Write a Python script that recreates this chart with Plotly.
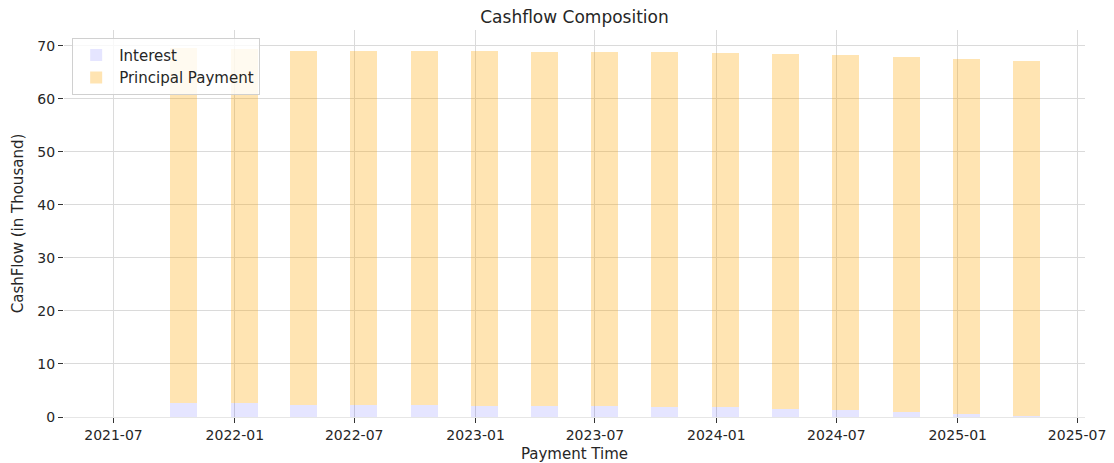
import plotly.graph_objects as go

# ---- data ----
payment_dates = ["2021-10-15", "2022-01-15", "2022-04-15", "2022-07-15", "2022-10-15",
                 "2023-01-15", "2023-04-15", "2023-07-15", "2023-10-15", "2024-01-15",
                 "2024-04-15", "2024-07-15", "2024-10-15", "2025-01-15", "2025-04-15"]
interest = [2.72, 2.72, 2.34, 2.34, 2.34, 2.15, 2.15, 2.15, 1.96, 1.96, 1.52, 1.33, 1.02, 0.57, 0.19]
principal = [66.84, 66.65, 66.71, 66.71, 66.71, 66.90, 66.65, 66.65, 66.90, 66.65, 66.90, 66.90, 66.83, 66.91, 66.91]
series_names = ["Interest", "Principal Payment"]
title_text = "Cashflow Composition"
x_label = "Payment Time"
y_label = "CashFlow (in Thousand)"

FONT = "DejaVu Sans"
BAR_WIDTH_MS = 41 * 86400000
# page body has an 8px margin; size the figure so the plot area lands where the reference has it
FIG_W, FIG_H = 1106, 455
M_L, M_R, M_T, M_B = 56, 29, 22, 46

fig = go.Figure()
fig.add_trace(go.Bar(x=payment_dates, y=interest, name=series_names[0],
                     marker=dict(color="rgba(0,0,255,0.1)", line=dict(width=0)),
                     width=[BAR_WIDTH_MS] * len(payment_dates)))
fig.add_trace(go.Bar(x=payment_dates, y=principal, name=series_names[1],
                     marker=dict(color="rgba(255,165,0,0.3)", line=dict(width=0)),
                     width=[BAR_WIDTH_MS] * len(payment_dates)))

fig.update_layout(
    width=FIG_W, height=FIG_H,
    barmode="stack",
    plot_bgcolor="white", paper_bgcolor="white",
    margin=dict(l=M_L, r=M_R, t=M_T, b=M_B, autoexpand=False),
    font=dict(family=FONT, color="#262626", size=14),
    title=dict(text=title_text, x=(M_L + (FIG_W - M_R - M_L) / 2) / FIG_W, xanchor="center",
               y=1 - 9 / FIG_H, yanchor="middle",
               yref="container", automargin=False,
               font=dict(size=17, family=FONT, color="#262626")),
    legend=dict(x=0.008, y=0.98, xanchor="left", yanchor="top",
                bgcolor="rgba(255,255,255,0.8)", bordercolor="#d0d0d0", borderwidth=1,
                font=dict(size=15, family=FONT, color="#262626"),
                traceorder="normal", itemwidth=36),
    showlegend=True,
)

fig.update_xaxes(
    type="date", automargin=False,
    range=["2021-04-17", "2025-07-13"],
    tick0="2021-07-01", dtick="M6", tickformat="%Y-%m",
    showgrid=True, gridcolor="#dadada", gridwidth=1.2,
    showline=True, linecolor="#e6e6e6", linewidth=1.2,
    ticks="outside", ticklen=5, tickwidth=1.2, tickcolor="#333333",
    tickfont=dict(size=14, family=FONT, color="#262626"),
    title=dict(text=x_label, font=dict(size=15, family=FONT, color="#262626"), standoff=6),
    zeroline=False,
)
fig.update_yaxes(
    automargin=False,
    range=[0, 73.0],
    tick0=0, dtick=10,
    showgrid=True, gridcolor="#dadada", gridwidth=1.2,
    showline=False, zeroline=False,
    ticks="outside", ticklen=5, tickwidth=1.2, tickcolor="#333333",
    tickfont=dict(size=14, family=FONT, color="#262626"),
    title=dict(text=y_label, font=dict(size=15, family=FONT, color="#262626"), standoff=10),
)

fig.write_html("out.html")
